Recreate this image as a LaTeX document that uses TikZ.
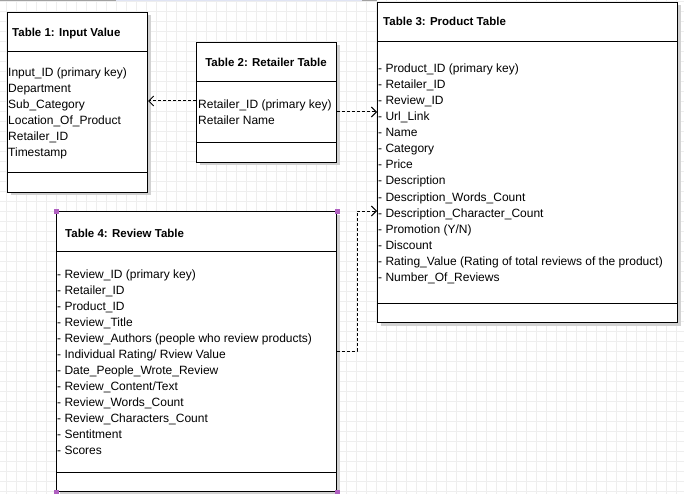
\documentclass[tikz,border=0pt]{standalone}
\usepackage{fontspec}
\setmainfont{Liberation Sans}
\usepackage{tikz}
\usetikzlibrary{arrows.meta, shadows}
\definecolor{gridgray}{RGB}{238,238,238}
\definecolor{shadegray}{RGB}{210,210,210}
\definecolor{handlepurple}{RGB}{176,96,192}
\definecolor{bardark}{RGB}{160,160,160}
\definecolor{barlight}{RGB}{224,228,244}
\tikzset{
  entity/.style={draw=black, line width=1pt, fill=white, anchor=north west, inner sep=0pt,
    drop shadow={shadow xshift=3pt, shadow yshift=-3pt, fill=shadegray, opacity=1}},
  title/.style={font=\bfseries\fontsize{11.5}{14}\selectfont, anchor=base west, inner sep=0pt},
  attr/.style={font=\fontsize{12}{14}\selectfont, anchor=base west, inner sep=0pt},
  fk/.style={line width=1pt, dash pattern=on 3pt off 2pt, -{Straight Barb[length=5pt, width=10pt]}},
  handlebox/.style={fill=handlepurple, minimum size=5pt, inner sep=0pt},
  gridline/.style={gridgray, line width=1pt}
}

\begin{document}
\begin{tikzpicture}[x=1pt, y=-1pt]
		\useasboundingbox (0,0) rectangle (684,494);
		% grid
		\foreach \x in {6.5,16.5,...,683} \draw[gridline] (\x,0) -- (\x,494);
		\foreach \y in {1.5,11.5,...,493} \draw[gridline] (0,\y) -- (684,\y);
		\fill[bardark] (0,0) rectangle (116,1);
		\fill[barlight] (116,0) rectangle (362,1);
		\fill[bardark] (362,0) rectangle (377,1);
		% tables
		\node[entity, minimum width=140pt, minimum height=180pt] (t1) at (7,12) {};
		\node[entity, minimum width=140pt, minimum height=120pt] (t2) at (196,42) {};
		\node[entity, minimum width=300pt, minimum height=320pt] (t3) at (377,2) {};
		\node[entity, minimum width=280pt, minimum height=280pt] (t4) at (56,211) {};
		\foreach \t in {t1,t2,t3,t4}
			\draw[line width=1pt] ([yshift=-40pt]\t.north west) -- ([yshift=-40pt]\t.north east)
				([yshift=20pt]\t.south west) -- ([yshift=20pt]\t.south east);
		% titles
		\node[title] (t1-title) at (12,37) {Table 1: Input Value};
		\node[title, anchor=base] (t2-title) at (266,67) {Table 2: Retailer Table};
		\node[title] (t3-title) at (383,26) {Table 3: Product Table};
		\node[title] (t4-title) at (65,237) {Table 4: Review Table};
		% attributes
		\foreach \a [count=\i] in {Input\_ID (primary key), Department, Sub\_Category,
			Location\_Of\_Product, Retailer\_ID, Timestamp}
			\node[attr] (t1-\i) at (8,61+16*\i) {\a};
		\foreach \a [count=\i] in {Retailer\_ID (primary key), Retailer Name}
			\node[attr] (t2-\i) at (198,93+16*\i) {\a};
		\foreach \a [count=\i] in {Product\_ID (primary key), Retailer\_ID, Review\_ID, Url\_Link,
			Name, Category, Price, Description, Description\_Words\_Count,
			Description\_Character\_Count, Promotion (Y/N), Discount,
			Rating\_Value (Rating of total reviews of the product), Number\_Of\_Reviews}
			\node[attr] (t3-\i) at (378,57+16*\i) {- \a};
		\foreach \a [count=\i] in {Review\_ID (primary key), Retailer\_ID, Product\_ID, Review\_Title,
			Review\_Authors (people who review products), Individual Rating/ Rview Value,
			Date\_People\_Wrote\_Review, Review\_Content/Text, Review\_Words\_Count,
			Review\_Characters\_Count, Sentitment, Scores}
			\node[attr] (t4-\i) at (57,262+16*\i) {- \a};
		% links
		\coordinate (a1) at (0,101);
		\coordinate (a2) at (0,112);
		\coordinate (a3) at (357,351);
		\coordinate (a4) at (357,211);
		\draw[fk] (t2.west |- a1) -- (t1.east |- a1);
		\draw[fk] (t2.east |- a2) -- (t3.west |- a2);
		\draw[fk] (t4.east |- a3) -| (a4) -- (t3.west |- a4);
		% selection handles
		\foreach \c/\n in {north west/nw, north east/ne, south west/sw, south east/se}
			\node[handlebox] (h\n) at (t4.\c) {};
	\end{tikzpicture}
\end{document}
